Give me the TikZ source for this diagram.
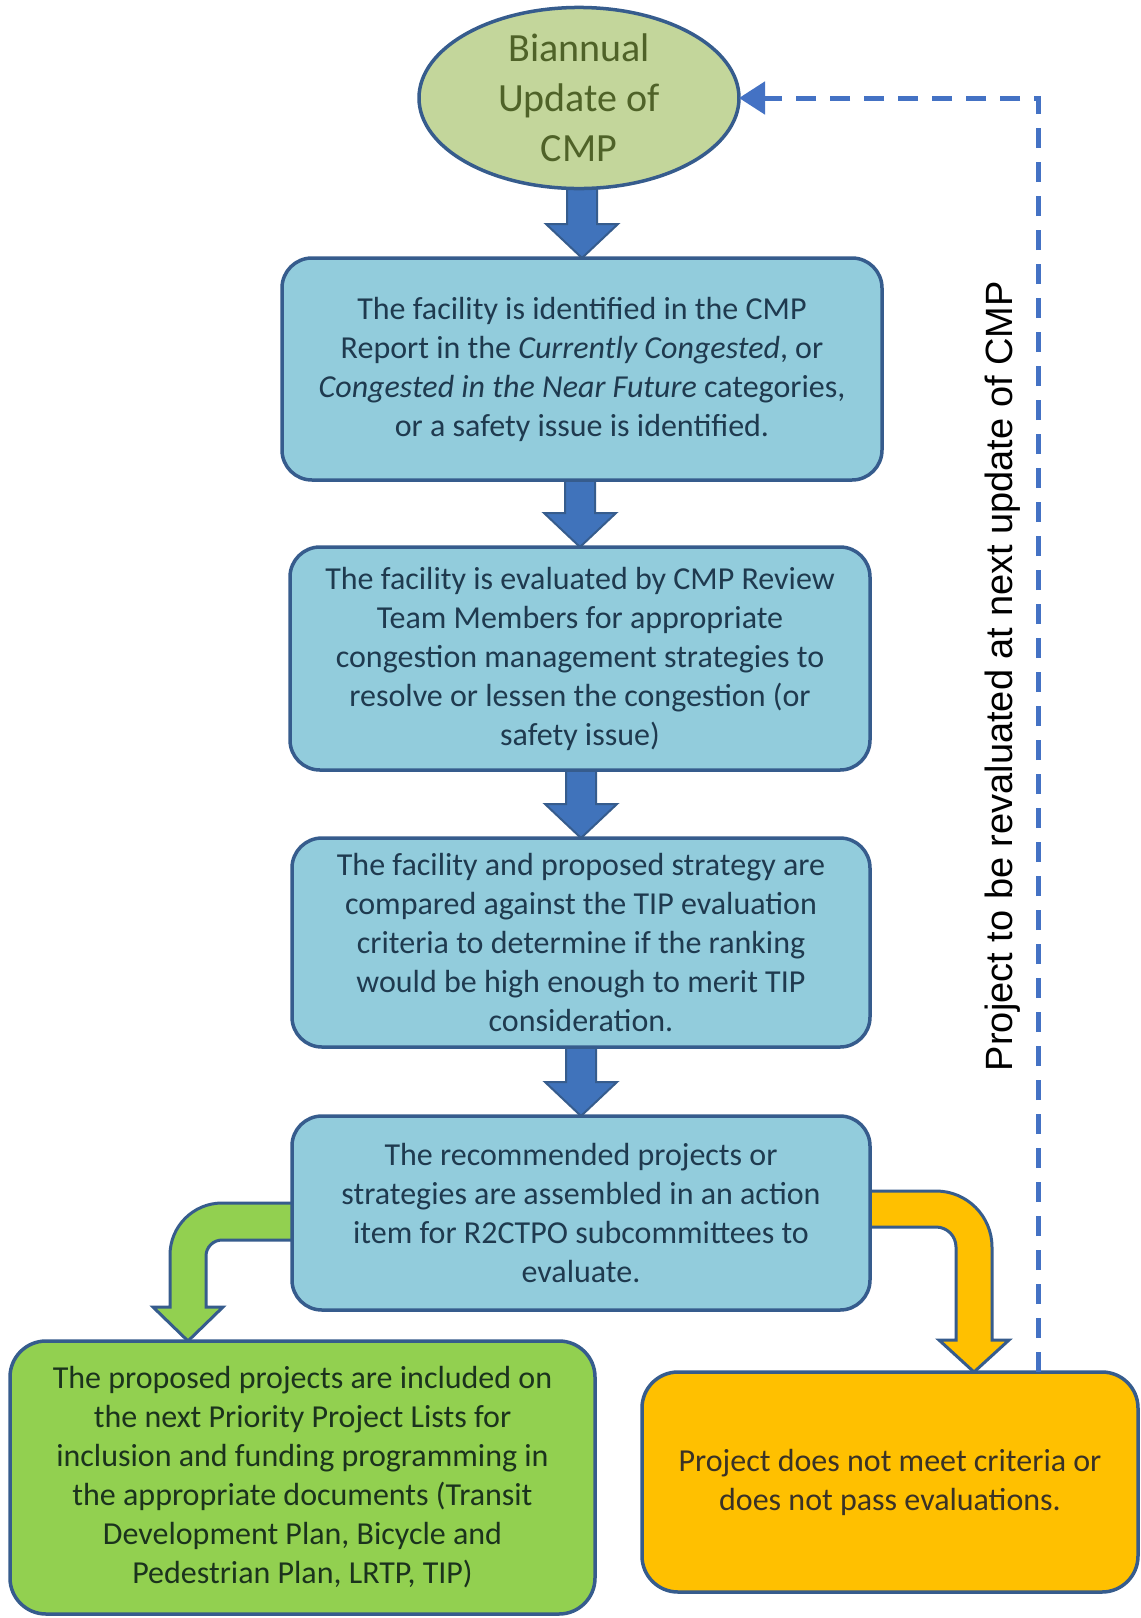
\documentclass[tikz,border=0pt]{standalone}
\usepackage{fontspec}
\setmainfont{Carlito}
\newfontfamily\arialfont{Liberation Sans}
\usetikzlibrary{shapes.geometric,arrows.meta,backgrounds,calc}
\definecolor{boxfill}{HTML}{92CCDC}
\definecolor{boxline}{HTML}{365C8D}
\definecolor{boxtext}{HTML}{1F3A4F}
\definecolor{arrowfill}{HTML}{4073BB}
\definecolor{ellfill}{HTML}{C3D69B}
\definecolor{elltext}{HTML}{4F6228}
\definecolor{greenfill}{HTML}{92D050}
\definecolor{greentext}{HTML}{1B331D}
\definecolor{orangefill}{HTML}{FFC000}
\definecolor{orangetext}{HTML}{3A3226}
\definecolor{dashcol}{HTML}{4472C4}
\tikzset{
  stepbox/.style={rectangle, rounded corners=30pt, draw=boxline, line width=3.5pt,
    fill=boxfill, text=boxtext, align=center, inner sep=0pt, outer sep=0pt,
    font=\fontsize{32}{39}\selectfont},
  startell/.style={ellipse, draw=boxline, line width=3.5pt, fill=ellfill, text=elltext,
    align=center, inner sep=0pt, outer sep=0pt, minimum width=320pt, minimum height=176pt,
    font=\fontsize{40}{50}\selectfont},
  yesbox/.style={stepbox, rounded corners=36pt, fill=greenfill, text=greentext},
  nobox/.style={stepbox, rounded corners=36pt, fill=orangefill, text=orangetext},
  blockarrow/.style={fill=arrowfill, draw=boxline, line width=2pt, line join=miter},
  greenarrow/.style={fill=greenfill, draw=boxline, line width=3pt, line join=miter},
  orangearrow/.style={fill=orangefill, draw=boxline, line width=3pt, line join=miter},
  loopline/.style={draw=dashcol, line width=5pt, dash pattern=on 20pt off 14pt,
    -{Triangle[length=26pt,width=32pt]}},
  notetext/.style={rotate=90, font=\arialfont\fontsize{38}{44}\selectfont, text=black,
    inner sep=0pt}
}
\newcommand\vblock[2]{%
  \filldraw[blockarrow] let \p1=(#1.south), \p2=(#2.north) in
    (\x2-15pt,\y1+6pt) -- (\x2-15pt,\y2+34pt) -- (\x2-36pt,\y2+34pt) -- (\x2,\y2)
    -- (\x2+36pt,\y2+34pt) -- (\x2+15pt,\y2+34pt) -- (\x2+15pt,\y1+6pt) -- cycle;}
\begin{document}
\begin{tikzpicture}[x=1pt,y=-1pt]
\useasboundingbox (0,0) rectangle (1141,1618);

\node[startell] (ell) at (579,98) {Biannual\\Update of\\CMP};

\node[stepbox, minimum width=600pt, minimum height=222pt] (b1) at (582,369)
  {The facility is identified in the CMP\\
   Report in the \textit{Currently Congested}, or\\
   \textit{Congested in the Near Future} categories,\\
   or a safety issue is identified.};

\node[stepbox, minimum width=580pt, minimum height=223pt] (b2) at (580,658.5)
  {The facility is evaluated by CMP Review\\
   Team Members for appropriate\\
   congestion management strategies to\\
   resolve or lessen the congestion (or\\
   safety issue)};

\node[stepbox, minimum width=578pt, minimum height=209pt] (b3) at (581,942.5)
  {The facility and proposed strategy are\\
   compared against the TIP evaluation\\
   criteria to determine if the ranking\\
   would be high enough to merit TIP\\
   consideration.};

\node[stepbox, minimum width=578pt, minimum height=194pt] (b4) at (581,1213)
  {The recommended projects or\\
   strategies are assembled in an action\\
   item for R2CTPO subcommittees to\\
   evaluate.};

\node[yesbox, minimum width=585pt, minimum height=273pt] (yes) at (302.5,1477.5)
  {The proposed projects are included on\\
   the next Priority Project Lists for\\
   inclusion and funding programming in\\
   the appropriate documents (Transit\\
   Development Plan, Bicycle and\\
   Pedestrian Plan, LRTP, TIP)};

\node[nobox, minimum width=496pt, minimum height=220pt] (no) at (890,1482)
  {Project does not meet criteria or\\
   does not pass evaluations.};

\node[notetext] (note) at (1003,676) {Project to be revaluated at next update of CMP};

\begin{scope}[on background layer]
  \fill[white] (0,0) rectangle (1141,1618);
  \vblock{ell}{b1}
  \vblock{b1}{b2}
  \vblock{b2}{b3}
  \vblock{b3}{b4}
  \begin{scope}[shift={(b4.west)}]
    \filldraw[greenarrow] (4,-10) -- (-70,-10) .. controls (-98.7,-10) and (-122,13.3) .. (-122,42)
      -- (-122,94) -- (-139,94) -- (-104,128) -- (-69,94) -- (-86,94) -- (-86,43)
      .. controls (-86,34.2) and (-78.8,27) .. (-70,27) -- (4,27) -- cycle;
  \end{scope}
  \begin{scope}[shift={(b4.east)}]
    \filldraw[orangearrow] (-4,-22) -- (66,-22) .. controls (96.9,-22) and (122,3.1) .. (122,34)
      -- (122,127) -- (139,127) -- (104,159) -- (69,127) -- (86,127) -- (86,34)
      .. controls (86,22.96) and (77.04,14) .. (66,14) -- (-4,14) -- cycle;
  \end{scope}
\end{scope}

\draw[loopline] ($(no.north)+(148,0)$) |- (ell.east);
\end{tikzpicture}
\end{document}
